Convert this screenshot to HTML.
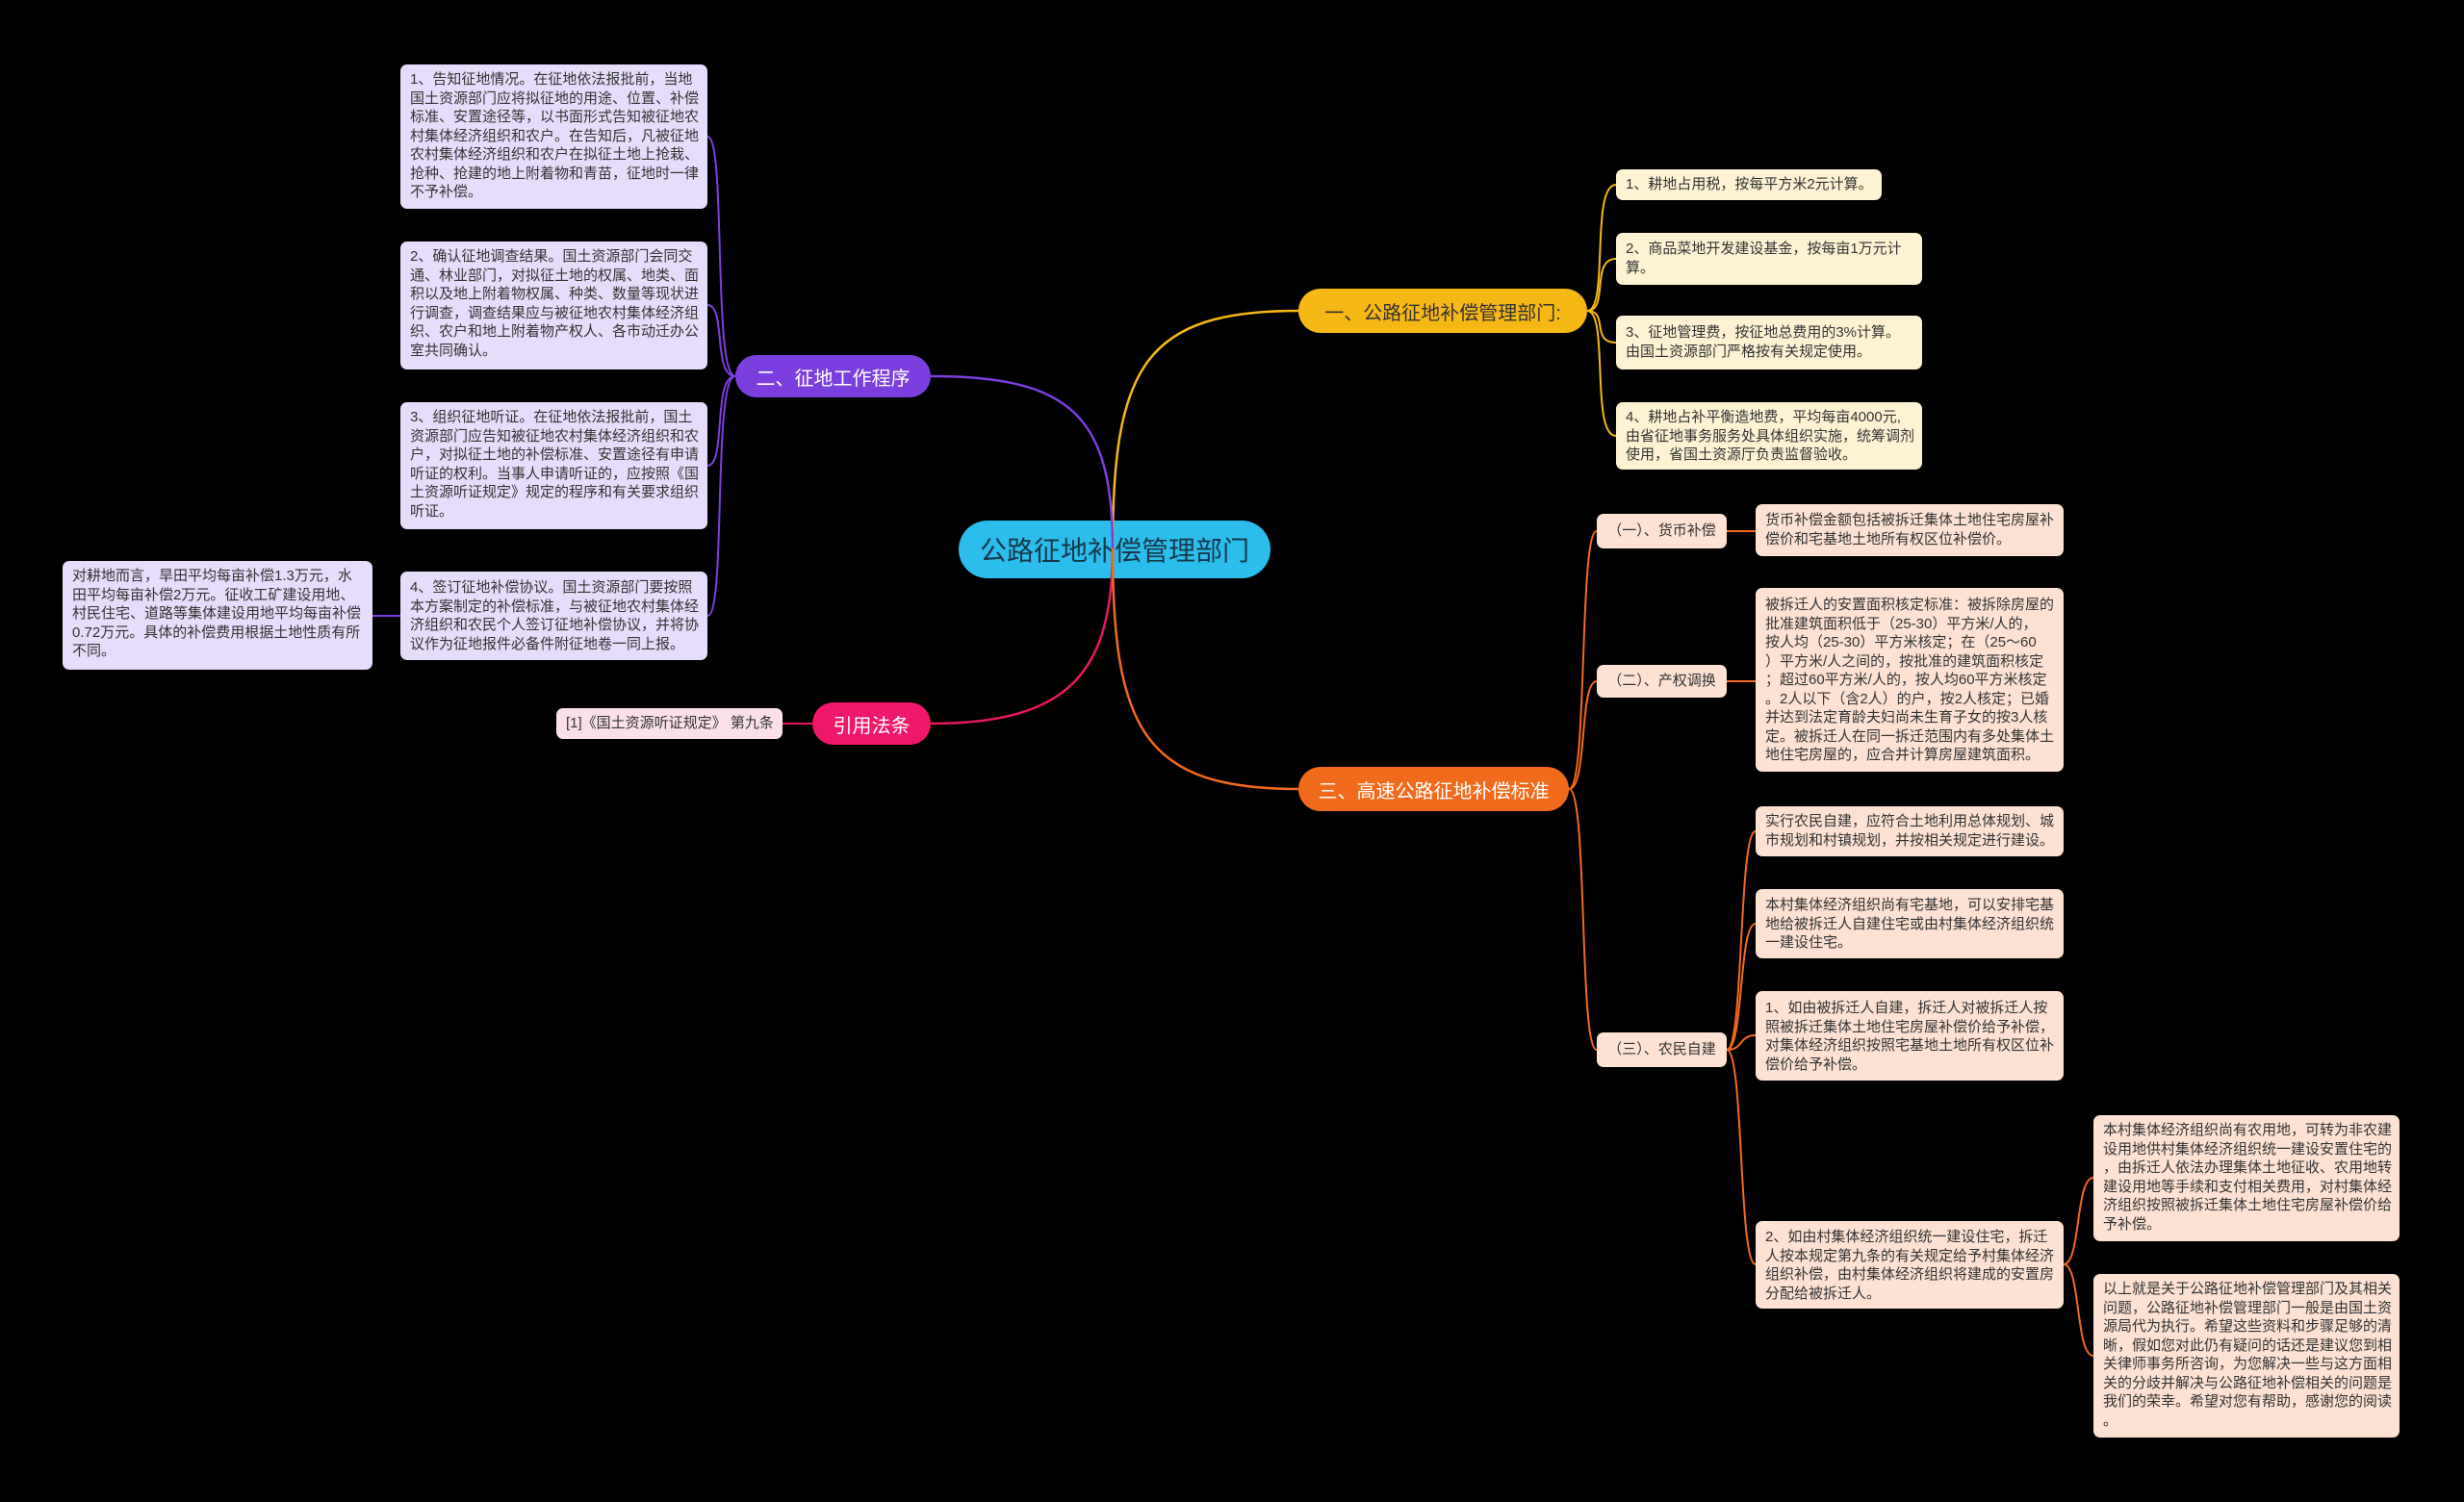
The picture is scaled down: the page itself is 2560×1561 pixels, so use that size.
<!DOCTYPE html>
<html><head><meta charset="utf-8"><style>
html,body{margin:0;padding:0;background:#000;}
body{width:2560px;height:1561px;position:relative;overflow:hidden;font-family:"Liberation Sans","Noto Sans CJK SC",sans-serif;}
.n{position:absolute;box-sizing:border-box;border-radius:7px;color:#333;font-size:15px;line-height:19.5px;padding:6px 10px;white-space:pre;}
.y{background:#fdf3d2;}
.p{background:#e6dcfb;}
.o{background:#fde1d2;}
.k{background:#fbe0ea;}
.b{position:absolute;box-sizing:border-box;border-radius:24px;display:flex;align-items:center;justify-content:center;font-size:20px;white-space:nowrap;}
svg{position:absolute;left:0;top:0;}
</style></head><body>
<div class="b" style="left:996px;top:541px;width:324px;height:60px;background:#2bbdec;color:#17394a;font-size:28px;border-radius:30px;">公路征地补偿管理部门</div>
<svg width="2560" height="1561" fill="none" stroke-width="2.5">
<path d="M1156,570 C1156,380 1190,323 1349,323" stroke="#f5b815"/>
<path d="M1156,570 C1156,430 1110,391 967,391" stroke="#7b3fe0"/>
<path d="M1156,570 C1156,700 1110,752 967,752" stroke="#e8185f"/>
<path d="M1156,570 C1156,760 1190,820 1349,820" stroke="#f26a1b"/>
<g stroke="#f5b815" stroke-width="2">
<path d="M1649,323 C1672,323 1652,192 1679,192"/>
<path d="M1649,323 C1672,323 1652,269 1679,269"/>
<path d="M1649,323 C1672,323 1652,356 1679,356"/>
<path d="M1649,323 C1672,323 1652,453 1679,453"/>
</g>
<g stroke="#7b3fe0" stroke-width="2">
<path d="M764,391 C740,391 755,142 735,142"/>
<path d="M764,391 C740,391 755,317 735,317"/>
<path d="M764,391 C740,391 755,484 735,484"/>
<path d="M764,391 C740,391 755,640 735,640"/>
<path d="M416,640 L387,640"/>
</g>
<path d="M813,752 L844,752" stroke="#e8185f" stroke-width="2"/>
<g stroke="#f26a1b" stroke-width="2">
<path d="M1630,820 C1650,820 1640,552 1659,552"/>
<path d="M1630,820 C1650,820 1640,708 1659,708"/>
<path d="M1630,820 C1650,820 1640,1091 1659,1091"/>
<path d="M1794,552 L1824,552"/>
<path d="M1794,708 L1824,708"/>
<path d="M1794,1091 C1812,1091 1806,864 1824,864"/>
<path d="M1794,1091 C1812,1091 1806,960 1824,960"/>
<path d="M1794,1091 C1812,1091 1806,1076 1824,1076"/>
<path d="M1794,1091 C1812,1091 1806,1314 1824,1314"/>
<path d="M2144,1314 C2162,1314 2156,1224 2175,1224"/>
<path d="M2144,1314 C2162,1314 2156,1409 2175,1409"/>
</g>
</svg>
<div class="b" style="left:1349px;top:300px;width:300px;height:46px;background:#f5b815;color:#333;">一、公路征地补偿管理部门:</div>
<div class="b" style="left:764px;top:369px;width:203px;height:44px;background:#7b3fe0;color:#fff;">二、征地工作程序</div>
<div class="b" style="left:844px;top:730px;width:123px;height:44px;background:#f0186a;color:#fff;">引用法条</div>
<div class="b" style="left:1349px;top:797px;width:281px;height:46px;background:#f26a1b;color:#fff;">三、高速公路征地补偿标准</div>

<div class="n y" style="left:1679px;top:176px;width:276px;height:32px;">1、耕地占用税，按每平方米2元计算。</div>
<div class="n y" style="left:1679px;top:242px;width:318px;height:54px;padding-top:7px;">2、商品菜地开发建设基金，按每亩1万元计
算。</div>
<div class="n y" style="left:1679px;top:328px;width:318px;height:56px;padding-top:8px;">3、征地管理费，按征地总费用的3%计算。
由国土资源部门严格按有关规定使用。</div>
<div class="n y" style="left:1679px;top:418px;width:318px;height:70px;padding-top:6px;">4、耕地占补平衡造地费，平均每亩4000元,
由省征地事务服务处具体组织实施，统筹调剂
使用，省国土资源厅负责监督验收。</div>

<div class="n p" style="left:416px;top:67px;width:319px;height:150px;">1、告知征地情况。在征地依法报批前，当地
国土资源部门应将拟征地的用途、位置、补偿
标准、安置途径等，以书面形式告知被征地农
村集体经济组织和农户。在告知后，凡被征地
农村集体经济组织和农户在拟征土地上抢栽、
抢种、抢建的地上附着物和青苗，征地时一律
不予补偿。</div>
<div class="n p" style="left:416px;top:251px;width:319px;height:133px;">2、确认征地调查结果。国土资源部门会同交
通、林业部门，对拟征土地的权属、地类、面
积以及地上附着物权属、种类、数量等现状进
行调查，调查结果应与被征地农村集体经济组
织、农户和地上附着物产权人、各市动迁办公
室共同确认。</div>
<div class="n p" style="left:416px;top:418px;width:319px;height:132px;">3、组织征地听证。在征地依法报批前，国土
资源部门应告知被征地农村集体经济组织和农
户，对拟征土地的补偿标准、安置途径有申请
听证的权利。当事人申请听证的，应按照《国
土资源听证规定》规定的程序和有关要求组织
听证。</div>
<div class="n p" style="left:416px;top:594px;width:319px;height:92px;padding-top:7px;">4、签订征地补偿协议。国土资源部门要按照
本方案制定的补偿标准，与被征地农村集体经
济组织和农民个人签订征地补偿协议，并将协
议作为征地报件必备件附征地卷一同上报。</div>
<div class="n p" style="left:65px;top:583px;width:322px;height:113px;">对耕地而言，旱田平均每亩补偿1.3万元，水
田平均每亩补偿2万元。征收工矿建设用地、
村民住宅、道路等集体建设用地平均每亩补偿
0.72万元。具体的补偿费用根据土地性质有所
不同。</div>
<div class="n k" style="left:578px;top:736px;width:235px;height:32px;">[1]《国土资源听证规定》 第九条</div>

<div class="n o" style="left:1659px;top:534px;width:135px;height:36px;padding-top:8px;text-align:center;">（一）、货币补偿</div>
<div class="n o" style="left:1659px;top:691px;width:135px;height:34px;padding-top:7px;text-align:center;">（二）、产权调换</div>
<div class="n o" style="left:1659px;top:1073px;width:135px;height:36px;padding-top:8px;text-align:center;">（三）、农民自建</div>

<div class="n o" style="left:1824px;top:524px;width:320px;height:54px;padding-top:7px;">货币补偿金额包括被拆迁集体土地住宅房屋补
偿价和宅基地土地所有权区位补偿价。</div>
<div class="n o" style="left:1824px;top:611px;width:320px;height:191px;padding-top:8px;">被拆迁人的安置面积核定标准：被拆除房屋的
批准建筑面积低于（25-30）平方米/人的，
按人均（25-30）平方米核定；在（25～60
）平方米/人之间的，按批准的建筑面积核定
；超过60平方米/人的，按人均60平方米核定
。2人以下（含2人）的户，按2人核定；已婚
并达到法定育龄夫妇尚未生育子女的按3人核
定。被拆迁人在同一拆迁范围内有多处集体土
地住宅房屋的，应合并计算房屋建筑面积。</div>
<div class="n o" style="left:1824px;top:838px;width:320px;height:52px;padding-top:6px;">实行农民自建，应符合土地利用总体规划、城
市规划和村镇规划，并按相关规定进行建设。</div>
<div class="n o" style="left:1824px;top:924px;width:320px;height:72px;padding-top:7px;">本村集体经济组织尚有宅基地，可以安排宅基
地给被拆迁人自建住宅或由村集体经济组织统
一建设住宅。</div>
<div class="n o" style="left:1824px;top:1030px;width:320px;height:93px;padding-top:8px;">1、如由被拆迁人自建，拆迁人对被拆迁人按
照被拆迁集体土地住宅房屋补偿价给予补偿，
对集体经济组织按照宅基地土地所有权区位补
偿价给予补偿。</div>
<div class="n o" style="left:1824px;top:1269px;width:320px;height:91px;padding-top:7px;">2、如由村集体经济组织统一建设住宅，拆迁
人按本规定第九条的有关规定给予村集体经济
组织补偿，由村集体经济组织将建成的安置房
分配给被拆迁人。</div>
<div class="n o" style="left:2175px;top:1159px;width:318px;height:131px;">本村集体经济组织尚有农用地，可转为非农建
设用地供村集体经济组织统一建设安置住宅的
，由拆迁人依法办理集体土地征收、农用地转
建设用地等手续和支付相关费用，对村集体经
济组织按照被拆迁集体土地住宅房屋补偿价给
予补偿。</div>
<div class="n o" style="left:2175px;top:1324px;width:318px;height:170px;">以上就是关于公路征地补偿管理部门及其相关
问题，公路征地补偿管理部门一般是由国土资
源局代为执行。希望这些资料和步骤足够的清
晰，假如您对此仍有疑问的话还是建议您到相
关律师事务所咨询，为您解决一些与这方面相
关的分歧并解决与公路征地补偿相关的问题是
我们的荣幸。希望对您有帮助，感谢您的阅读
。</div>
</body></html>
